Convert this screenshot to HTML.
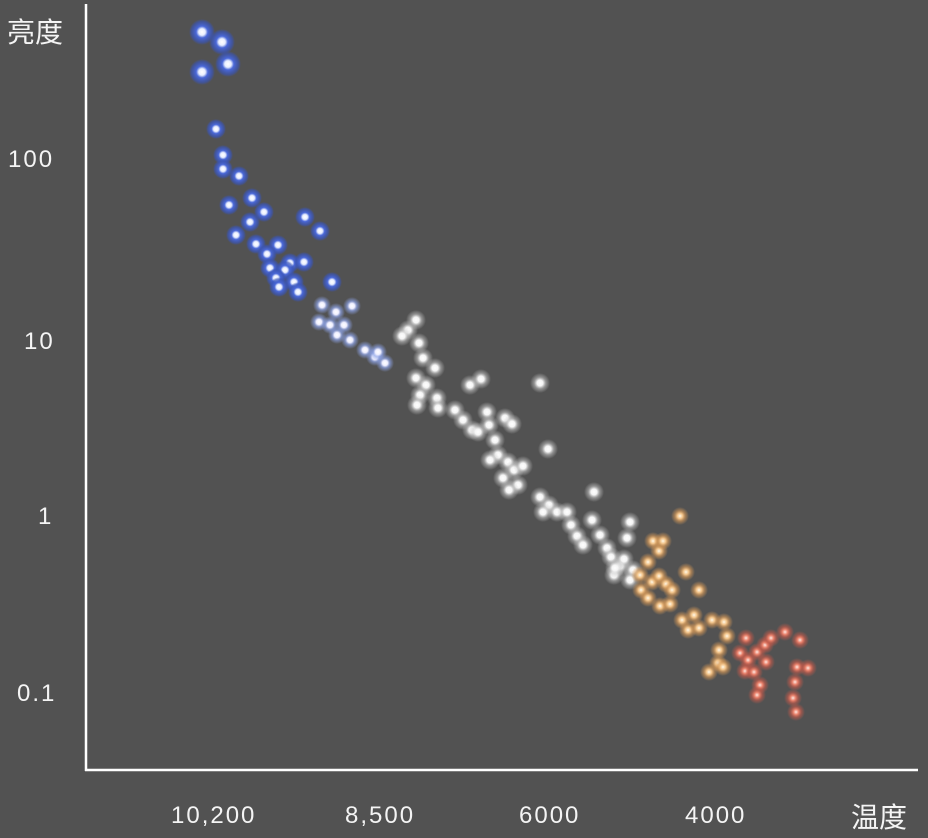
<!DOCTYPE html>
<html><head><meta charset="utf-8"><style>
html,body{margin:0;padding:0;background:#525252;}
body{width:928px;height:838px;overflow:hidden;position:relative;font-family:"Liberation Sans","Noto Sans CJK SC",sans-serif;color:#fff;}
.t{position:absolute;font-size:24px;letter-spacing:2px;color:#f4f4f4;line-height:1;}
.c{font-size:28px;letter-spacing:0;}
</style></head><body>
<svg id="s" width="928" height="838" style="position:absolute;left:0;top:0">
<defs>
<radialGradient id="gb"><stop offset="0" stop-color="#fff"/><stop offset="0.25" stop-color="#e8eeff"/><stop offset="0.45" stop-color="#4a68d8"/><stop offset="0.8" stop-color="#3a55b8" stop-opacity="0.7"/><stop offset="1" stop-color="#3a55b8" stop-opacity="0"/></radialGradient>
<radialGradient id="gl"><stop offset="0" stop-color="#fff"/><stop offset="0.3" stop-color="#eef"/><stop offset="0.55" stop-color="#8ea4e8" stop-opacity="0.7"/><stop offset="1" stop-color="#8ea4e8" stop-opacity="0"/></radialGradient>
<radialGradient id="gw"><stop offset="0" stop-color="#fff"/><stop offset="0.3" stop-color="#f4f4f4"/><stop offset="0.6" stop-color="#ccc" stop-opacity="0.5"/><stop offset="1" stop-color="#ccc" stop-opacity="0"/></radialGradient>
<radialGradient id="go"><stop offset="0" stop-color="#fff8e8"/><stop offset="0.3" stop-color="#f2c48a"/><stop offset="0.6" stop-color="#d89a58" stop-opacity="0.6"/><stop offset="1" stop-color="#d89a58" stop-opacity="0"/></radialGradient>
<radialGradient id="gr"><stop offset="0" stop-color="#ffe8e0"/><stop offset="0.3" stop-color="#e8806a"/><stop offset="0.6" stop-color="#c85a4a" stop-opacity="0.6"/><stop offset="1" stop-color="#c85a4a" stop-opacity="0"/></radialGradient>
</defs>
<line x1="86" y1="4" x2="86" y2="771" stroke="#fff" stroke-width="2.5"/>
<line x1="85" y1="770" x2="918" y2="770" stroke="#fff" stroke-width="2.5"/>
<g id="st"></g>
</svg>
<div class="t c" style="left:7px;top:19px">亮度</div>
<div class="t" style="left:8px;top:148px">100</div>
<div class="t" style="left:24px;top:330px">10</div>
<div class="t" style="left:38px;top:505px">1</div>
<div class="t" style="left:17px;top:682px">0.1</div>
<div class="t" style="left:171px;top:804px">10,200</div>
<div class="t" style="left:345px;top:804px">8,500</div>
<div class="t" style="left:519px;top:804px">6000</div>
<div class="t" style="left:685px;top:804px">4000</div>
<div class="t c" style="left:851px;top:804px">温度</div>
<script>
var B=[[202,32],[222,42],[228,64],[202,72]];
var b=[[216,129],[223,155],[223,169],[239,176],[229,205],[252,198],[264,212],[250,222],[236,235],[256,244],[278,245],[267,254],[290,263],[304,262],[270,268],[285,270],[276,278],[294,282],[279,287],[298,292],[305,217],[320,231],[332,282]];
var L=[[322,305],[336,312],[352,306],[319,322],[330,325],[344,325],[337,335],[350,340],[365,350],[375,357],[385,363],[378,352]];
var W=[[416,320],[408,330],[419,343],[402,336],[423,358],[435,368],[416,378],[426,385],[420,395],[417,405],[437,398],[438,408],[470,385],[481,379],[540,383],[455,410],[463,420],[472,430],[487,412],[489,425],[478,432],[495,440],[505,418],[512,424],[498,455],[490,460],[508,462],[514,470],[518,485],[503,478],[509,490],[523,466],[548,449],[540,497],[549,505],[543,512],[557,512],[567,512],[571,525],[577,536],[583,545],[592,520],[594,492],[600,535],[607,548],[611,557],[620,566],[614,575],[630,522],[627,538],[624,559],[633,570],[630,580],[615,568]];
var O=[[653,541],[659,551],[663,541],[648,562],[640,575],[652,582],[659,576],[666,584],[641,590],[648,598],[660,606],[672,590],[686,572],[699,590],[680,516],[670,604],[682,620],[694,615],[688,630],[699,628],[712,620],[724,622],[727,636],[719,650],[718,663],[709,672],[723,667]];
var R=[[746,638],[740,653],[748,660],[757,652],[765,645],[766,662],[771,638],[785,632],[800,640],[745,671],[754,672],[760,685],[757,695],[797,667],[808,668],[795,682],[793,698],[796,712]];
var g=document.getElementById('st'),h='';
function add(a,id,r){a.forEach(function(p){h+='<circle cx="'+p[0]+'" cy="'+p[1]+'" r="'+r+'" fill="url(#'+id+')"/>';});}
add(B,'gb',13);add(b,'gb',10);add(L,'gl',9);add(W,'gw',10);add(O,'go',9);add(R,'gr',9);
g.innerHTML=h;
</script>
</body></html>
